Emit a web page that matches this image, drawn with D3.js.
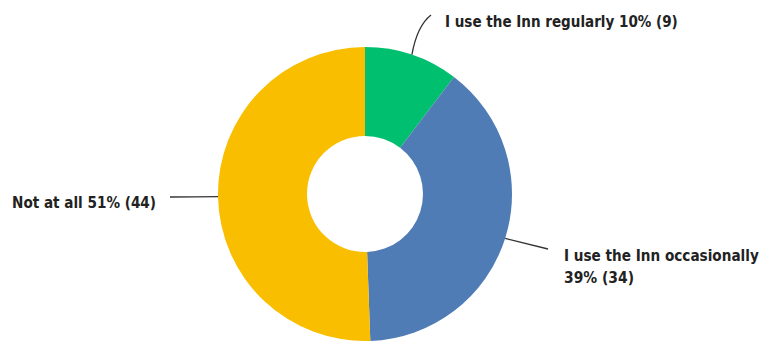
<!DOCTYPE html>
<html>
<head>
<meta charset="utf-8">
<script src="https://cdn.jsdelivr.net/npm/d3@7"></script>
<style>
  body { margin: 0; background: #fff; }
  text { font-family: "DejaVu Sans Condensed", "Liberation Sans", sans-serif; font-weight: bold; fill: #222; font-size: 16px; }
</style>
</head>
<body>
<svg></svg>
<script>
var width = 766;
var height = 341;

// data
var answers = ["I use the Inn regularly", "I use the Inn occasionally", "Not at all"];
var counts = [9, 34, 44];
var percents = ["10%", "39%", "51%"];
var colors = ["#00bf6f", "#507cb6", "#f9be00"];

var cx = 365, cy = 194;
var outer = 147, inner = 58;

var svg = d3.select("svg")
  .attr("width", width)
  .attr("height", height);

var g = svg.append("g")
  .attr("transform", "translate(" + cx + "," + cy + ")");

var pie = d3.pie().sort(null).value(function (d) { return d; });
var arcs = pie(counts);

var arc = d3.arc().innerRadius(inner).outerRadius(outer);

g.selectAll("path.slice")
  .data(arcs)
  .enter().append("path")
  .attr("class", "slice")
  .attr("fill", function (d, i) { return colors[i]; })
  .attr("d", arc);

// leader lines + labels (offsets relative to centre)
var labelPos = [
  {end: [66, -179], mid: [52, -168], tx: 80, ty: -167},
  {end: [183, 55], mid: [163, 50], tx: 199, ty: 67},
  {end: [-195, 3], mid: [-170, 3], tx: -209, ty: 14}
];

var edge = d3.arc().innerRadius(outer).outerRadius(outer);

arcs.forEach(function (d, i) {
  var p = edge.centroid(d);
  var l = labelPos[i];
  var path = d3.path();
  path.moveTo(p[0], p[1]);
  path.quadraticCurveTo(l.mid[0], l.mid[1], l.end[0], l.end[1]);
  g.append("path")
    .attr("d", path.toString())
    .attr("fill", "none")
    .attr("stroke", "#333")
    .attr("stroke-width", 1.3);
});

// put a label at x,y and squeeze it horizontally to width w
// (the original uses a narrow font we don't have)
function label(str, x, y, w, anchor) {
  var t = g.append("text").text(str);
  var len = t.node().getComputedTextLength();
  var s = Math.min(1, w / len);
  if (anchor == "end") t.attr("text-anchor", "end");
  t.attr("transform", "translate(" + x + "," + y + ") scale(" + s + ",1)");
  return t;
}

label(answers[0] + " " + percents[0] + " (" + counts[0] + ")",
  labelPos[0].tx, labelPos[0].ty, 233);
label(answers[1], labelPos[1].tx, labelPos[1].ty, 195);
label(percents[1] + " (" + counts[1] + ")", labelPos[1].tx, labelPos[1].ty + 22, 70);
label(answers[2] + " " + percents[2] + " (" + counts[2] + ")",
  labelPos[2].tx, labelPos[2].ty, 144, "end");
</script>
</body>
</html>
